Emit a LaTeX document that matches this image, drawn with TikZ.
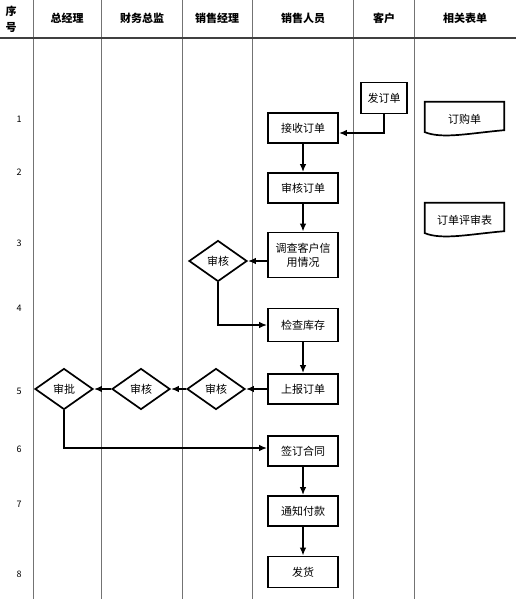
\documentclass[tikz,border=0pt]{standalone}
\usepackage{fontspec}
\setmainfont{Noto Sans CJK SC}
\usetikzlibrary{shapes.geometric,arrows.meta}
\begin{document}
\begin{tikzpicture}[x=1pt,y=-1pt,line join=miter]
% Styles
\tikzstyle{lane}=[draw=black!55,line width=1pt]
\tikzstyle{head}=[font=\fontsize{11}{13}\selectfont\bfseries,align=center]
\tikzstyle{num}=[font=\fontsize{9}{10}\selectfont]
\tikzstyle{box}=[draw,line width=1.7pt,minimum width=70pt,minimum height=30pt,inner sep=1pt,align=center,font=\fontsize{11}{14}\selectfont]
\tikzstyle{check}=[draw,line width=1.7pt,diamond,aspect=1.4,minimum width=58pt,minimum height=41pt,inner sep=1pt,font=\fontsize{11}{13}\selectfont]
\tikzstyle{doctext}=[minimum width=79pt,minimum height=34pt,inner sep=0pt,font=\fontsize{11}{13}\selectfont]
\tikzstyle{flow}=[line width=1.6pt,-{Latex[length=8pt,width=6.5pt]}]

\useasboundingbox (0,0) rectangle (516,599);

% lanes
\foreach \x in {33,101,182,252,353,414} {
\draw[lane] (\x,0) -- (\x,599);
}
\draw[draw=black!75,line width=1.2pt] (0,38) -- (516,38);

% header
\node[head] (hno) at (11,19) {序\\[3pt]号};
\node[head] (hzjl) at (67,18) {总经理};
\node[head] (hcw) at (142,18) {财务总监};
\node[head] (hxsjl) at (217,18) {销售经理};
\node[head] (hxsry) at (303,18) {销售人员};
\node[head] (hkh) at (384,18) {客户};
\node[head] (hbd) at (465,18) {相关表单};

% row numbers
\foreach \n/\y in {1/119,2/172,3/243,4/308,5/391,6/449,7/504,8/574} {
\node[num] (r\n) at (19,\y) {\n};
}

% steps
\node[box,minimum width=46pt,minimum height=31pt] (fadan) at (384,98) {发订单};
\node[box] (jieshou) at (303,128) {接收订单};
\node[box] (shenhedan) at (303,188) {审核订单};
\node[box,minimum height=45pt] (diaocha) at (303,255) {调查客户信\\用情况};
\node[check] (xsshenhe) at (218,261) {审核};
\node[box,minimum height=33pt] (kucun) at (303,325) {检查库存};
\node[box] (shangbao) at (303,389) {上报订单};
\node[check] (jlshenhe) at (216,389) {审核};
\node[check] (cwshenhe) at (141,389) {审核};
\node[check] (shenpi) at (64,389) {审批};
\node[box] (hetong) at (303,451) {签订合同};
\node[box] (fukuan) at (303,511) {通知付款};
\node[box,minimum height=31pt] (fahuo) at (303,572) {发货};

% forms
\node[doctext] (dinggou) at (464.5,119) {订购单};
\node[doctext] (pingshen) at (464.5,220) {订单评审表};
\foreach \d in {dinggou,pingshen} {
\draw[line width=1.7pt] ([yshift=4pt]\d.south west) -- (\d.north west) -- (\d.north east) -- ([yshift=6pt]\d.south east)
  .. controls +(-35,3) and +(18,7) .. ([yshift=4pt]\d.south west) -- cycle;
}

% connectors
\draw[flow] (fadan.south) |- ([yshift=-5pt]jieshou.east);
\draw[flow] (jieshou.south) -- (shenhedan.north);
\draw[flow] (shenhedan.south) -- (diaocha.north);
\draw[flow] (diaocha.west |- xsshenhe.east) -- (xsshenhe.east);
\draw[flow] (xsshenhe.south) |- (kucun.west);
\draw[flow] (kucun.south) -- (shangbao.north);
\draw[flow] (shangbao.west) -- (jlshenhe.east);
\draw[flow] (jlshenhe.west) -- (cwshenhe.east);
\draw[flow] (cwshenhe.west) -- (shenpi.east);
\draw[flow] (shenpi.south) |- ([yshift=3pt]hetong.west);
\draw[flow] (hetong.south) -- (fukuan.north);
\draw[flow] (fukuan.south) -- (fahuo.north);

\end{tikzpicture}
\end{document}
